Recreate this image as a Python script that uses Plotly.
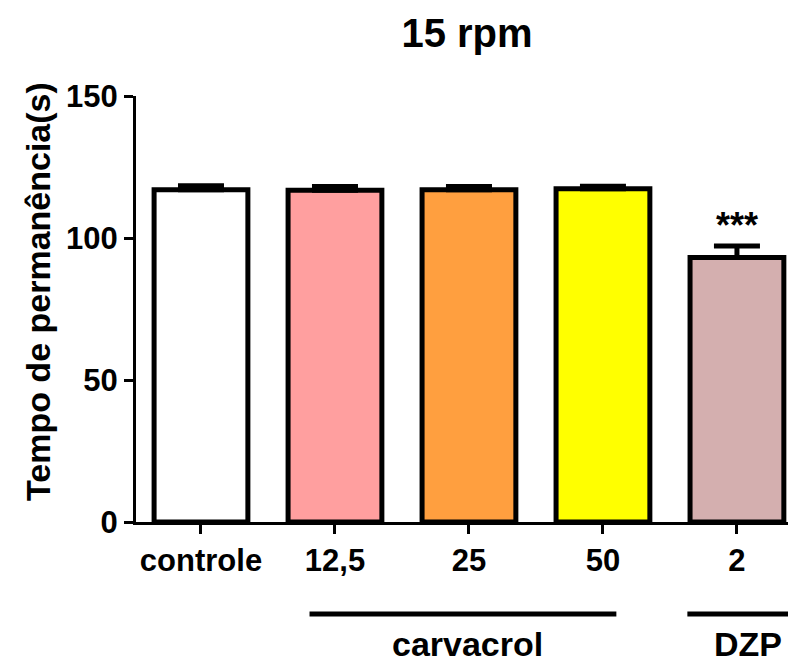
import plotly.graph_objects as go

categories = ["controle", "12,5", "25", "50", "2"]
means = [117.0, 116.8, 117.0, 117.3, 93.1]
sem = [1.4, 1.3, 1.1, 0.9, 4.1]
colors = ["#FFFFFF", "#FF9F9F", "#FF9F3F", "#FFFF00", "#D4AFAF"]
significance = ["", "", "", "", "***"]
groups = ["carvacrol", "DZP"]
group_spans = [(0.81, 3.1), (3.63, 4.45)]
group_centers = [1.99, 4.08]

FONT = "Liberation Sans, Arial, sans-serif"
xpos = list(range(len(categories)))

fig = go.Figure()
fig.add_trace(go.Bar(
    x=xpos, y=means, width=0.7,
    marker=dict(color=colors, line=dict(color="black", width=5)),
    error_y=dict(type="data", array=sem, arrayminus=[0] * len(sem), symmetric=False,
                 color="black", thickness=5, width=23, visible=True),
    showlegend=False,
))

for i, s in enumerate(significance):
    if s:
        fig.add_annotation(x=xpos[i], y=means[i] + sem[i], text=s, showarrow=False,
                           yshift=20, font=dict(family=FONT, size=36, color="black", weight="bold"))

for (a, b) in group_spans:
    fig.add_shape(type="line", xref="x", yref="paper", x0=a, x1=b, y0=-0.216, y1=-0.216,
                  line=dict(color="black", width=5))
for g, c in zip(groups, group_centers):
    fig.add_annotation(x=c, y=-0.3357, xref="x", yref="paper", text=g, showarrow=False,
                       yanchor="bottom", font=dict(family=FONT, size=34, color="black", weight="bold"))

# y-axis title as rotated annotation (slightly above plot center, as in reference)
fig.add_annotation(x=(38 - 136) / 652, y=(522 - 292) / 426, xref="paper", yref="paper",
                   text="Tempo de permanência(s)", textangle=-90, showarrow=False,
                   xanchor="center", yanchor="middle",
                   font=dict(family=FONT, size=34, color="black", weight="bold"))

fig.update_layout(
    width=788, height=666,
    margin=dict(l=136, r=0, t=96, b=144),
    paper_bgcolor="white", plot_bgcolor="white",
    title=dict(text="15 rpm", x=(467 - 136) / 652, xref="paper", xanchor="center",
               y=1 - 33 / 666, yref="container", yanchor="middle",
               font=dict(family=FONT, size=40, color="black", weight="bold")),
    xaxis=dict(range=[-0.485, 4.381], tickmode="array", tickvals=xpos, ticktext=categories,
               showline=True, linecolor="black", linewidth=3, ticks="outside", ticklen=9,
               tickwidth=3, tickcolor="black", showgrid=False, zeroline=False,
               tickfont=dict(family=FONT, size=31, color="black", weight="bold")),
    yaxis=dict(range=[0, 150], tickvals=[0, 50, 100, 150], showline=True, linecolor="black",
               linewidth=3, ticks="outside", ticklen=9, tickwidth=3, tickcolor="black",
               showgrid=False, zeroline=False,
               tickfont=dict(family=FONT, size=31, color="black", weight="bold")),
)

fig.write_html("out.html")
